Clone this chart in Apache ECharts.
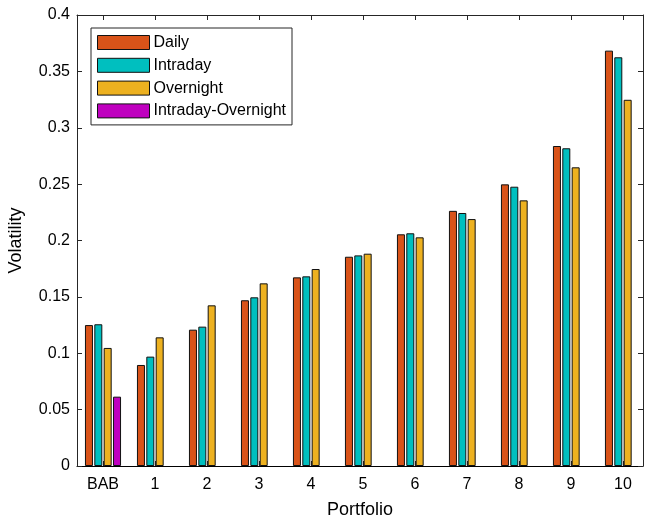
<!DOCTYPE html>
<html>
<head>
<meta charset="utf-8">
<script src="https://cdn.jsdelivr.net/npm/echarts@6/dist/echarts.min.js"></script>
<style>html,body{margin:0;padding:0;background:#fff}#c{width:646px;height:521px}</style>
</head>
<body>
<div id="c"></div>
<script>
const categories = ['BAB','1','2','3','4','5','6','7','8','9','10'];
const daily     = [0.125, 0.0896, 0.1209, 0.147, 0.1673, 0.1856, 0.2055, 0.2263, 0.2498, 0.2838, 0.3684];
const intraday  = [0.1257, 0.097, 0.1236, 0.1496, 0.1682, 0.1868, 0.2064, 0.2244, 0.2477, 0.2818, 0.3625];
const overnight = [0.1047, 0.1141, 0.1425, 0.162, 0.1747, 0.1883, 0.2028, 0.219, 0.2356, 0.2649, 0.3248];
const intraOver = [0.0615, 0, 0, 0, 0, 0, 0, 0, 0, 0, 0];
const yTicks = [0, 0.05, 0.1, 0.15, 0.2, 0.25, 0.3, 0.35, 0.4];

const positions = categories.map((c, i) => i + 1);
const font = '"Liberation Sans", Arial, Helvetica, sans-serif';
const axisCol = '#262626';

function pts(vals) {
  return vals.map((v, i) => v === 0
    ? { value: [positions[i], v], itemStyle: { borderWidth: 0 } }
    : [positions[i], v]);
}
function bar(name, vals, color) {
  return {
    name, type: 'bar', data: pts(vals), barWidth: 8, barGap: '17%',
    itemStyle: { color, borderColor: '#111', borderWidth: 1 },
    xAxisIndex: 0, yAxisIndex: 0, animation: false
  };
}

const chart = echarts.init(document.getElementById('c'), null, { renderer: 'canvas' });
chart.setOption({
  animation: false,
  grid: { left: 77, right: 3, top: 15, bottom: 55, containLabel: false, outerBoundsMode: 'none' },
  legend: {
    orient: 'vertical', left: 91, top: 28,
    padding: [6.5, 6, 6, 6],
    backgroundColor: '#fff', borderColor: axisCol, borderWidth: 1,
    itemWidth: 52, itemHeight: 14, itemGap: 6.8,
    icon: 'rect',
    itemStyle: { borderColor: '#111', borderWidth: 1 },
    textStyle: { fontFamily: font, fontSize: 16, color: '#000', lineHeight: 14, padding: [0, 0, 0, -1] },
    data: ['Daily', 'Intraday', 'Overnight', 'Intraday-Overnight']
  },
  xAxis: [{
    type: 'value', min: 0.5, max: 11.385, position: 'bottom',
    name: 'Portfolio', nameLocation: 'middle', nameGap: 35,
    nameTextStyle: { fontFamily: font, fontSize: 18, color: '#000' },
    axisLine: { show: true, onZero: false, lineStyle: { color: '#000', width: 1 } },
    axisTick: { show: true, inside: true, length: 5, customValues: positions, lineStyle: { color: axisCol } },
    axisLabel: { customValues: positions, formatter: v => categories[Math.round(v) - 1], margin: 11,
      fontFamily: font, fontSize: 16, color: '#000' },
    splitLine: { show: false }
  }, {
    type: 'value', min: 0.5, max: 11.385, position: 'top',
    axisLine: { show: true, onZero: false, lineStyle: { color: axisCol, width: 1 } },
    axisTick: { show: true, inside: true, length: 5, customValues: positions, lineStyle: { color: axisCol } },
    axisLabel: { show: false },
    splitLine: { show: false }
  }],
  yAxis: [{
    type: 'value', min: 0, max: 0.4, interval: 0.05, position: 'left',
    name: 'Volatility', nameLocation: 'middle', nameGap: 52,
    nameTextStyle: { fontFamily: font, fontSize: 18, color: '#000' },
    axisLine: { show: true, onZero: false, lineStyle: { color: axisCol, width: 1 } },
    axisTick: { show: true, inside: true, length: 5, lineStyle: { color: axisCol } },
    axisLabel: { customValues: yTicks, margin: 7, fontFamily: font, fontSize: 16, color: '#000',
      formatter: v => String(+v.toFixed(2)) },
    splitLine: { show: false }
  }, {
    type: 'value', min: 0, max: 0.4, interval: 0.05, position: 'right',
    axisLine: { show: true, onZero: false, lineStyle: { color: axisCol, width: 1 } },
    axisTick: { show: true, inside: true, length: 5, lineStyle: { color: axisCol } },
    axisLabel: { show: false },
    splitLine: { show: false }
  }],
  series: [
    bar('Daily', daily, '#D95319'),
    bar('Intraday', intraday, '#00BFBF'),
    bar('Overnight', overnight, '#EDB120'),
    bar('Intraday-Overnight', intraOver, '#BF00BF')
  ]
});
</script>
</body>
</html>
